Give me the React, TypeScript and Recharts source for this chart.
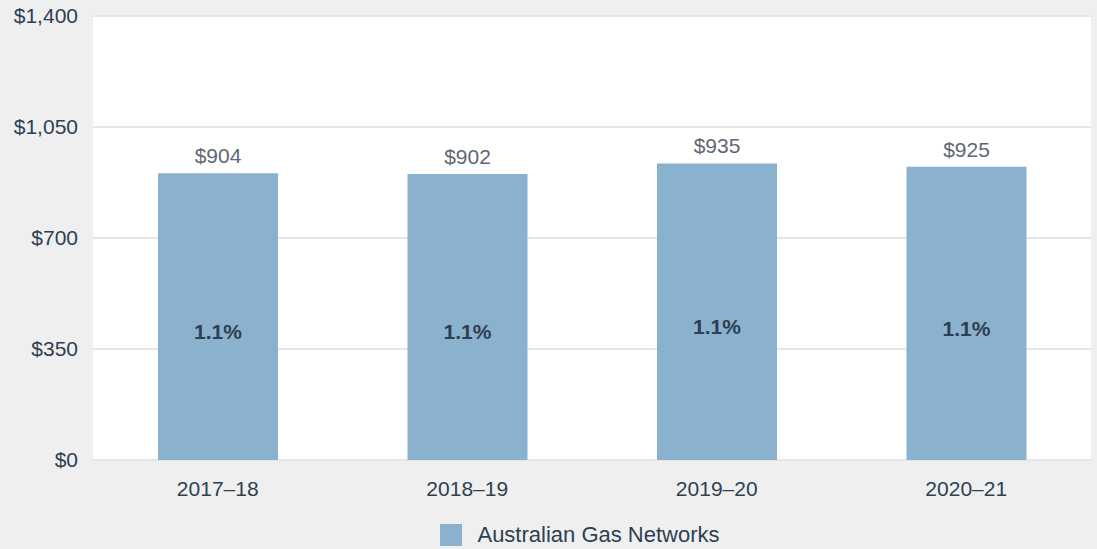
import React from "react";
import { BarChart, Bar, XAxis, YAxis, CartesianGrid, Legend, LabelList } from "recharts";

const categories = ["2017–18", "2018–19", "2019–20", "2020–21"];
const values = [904, 902, 935, 925];
const shares = ["1.1%", "1.1%", "1.1%", "1.1%"];
const yTicks = [0, 350, 700, 1050, 1400];
const seriesName = "Australian Gas Networks";

const data = categories.map((c, i) => ({ year: c, value: values[i], share: shares[i] }));

const FONT = "'Liberation Sans', Arial, Helvetica, sans-serif";
const DARK = "#2e3f52";
const BAR = "#8ab1cd";

const fmt = (v: number) => "$" + v.toLocaleString("en-US");

const LegendContent = () => (
  <div style={{ display: "flex", justifyContent: "center", alignItems: "center", height: 30, fontFamily: FONT, transform: "translate(34px, 7px)" }}>
    <div style={{ width: 22, height: 22, background: BAR, marginRight: 15 }} />
    <span style={{ fontSize: 22, color: DARK }}>{seriesName}</span>
  </div>
);

export default function App() {
  return (
    <div style={{ position: "absolute", left: 0, top: 0, width: 1097, height: 549, background: "#efefef" }}>
      <BarChart
        width={1097}
        height={549}
        data={data}
        margin={{ top: 16, right: 6, left: 1, bottom: 6 }}
        barSize={120}
      >
        <CartesianGrid vertical={false} stroke="#e6e6e6" strokeWidth={2} fill="#ffffff" />
        <XAxis
          dataKey="year"
          axisLine={false}
          tickLine={false}
          tickSize={0}
          tickMargin={21}
          height={53}
          tick={{ fill: DARK, fontSize: 21, fontFamily: FONT }}
        />
        <YAxis
          domain={[0, 1400]}
          ticks={yTicks}
          tickFormatter={fmt}
          axisLine={false}
          tickLine={false}
          tickSize={0}
          tickMargin={15}
          width={92}
          tick={{ fill: DARK, fontSize: 21, fontFamily: FONT }}
        />
        <Legend verticalAlign="bottom" content={<LegendContent />} wrapperStyle={{ height: 30 }} />
        <Bar dataKey="value" name={seriesName} fill={BAR} isAnimationActive={false}>
          <LabelList
            dataKey="value"
            position="top"
            offset={10}
            formatter={(v: any) => fmt(Number(v))}
            style={{ fill: "#5f6874", fontSize: 21, fontFamily: FONT }}
          />
          <LabelList
            dataKey="share"
            position="center"
            dy={15}
            style={{ fill: DARK, fontSize: 21, fontFamily: FONT, fontWeight: 700 }}
          />
        </Bar>
      </BarChart>
    </div>
  );
}
